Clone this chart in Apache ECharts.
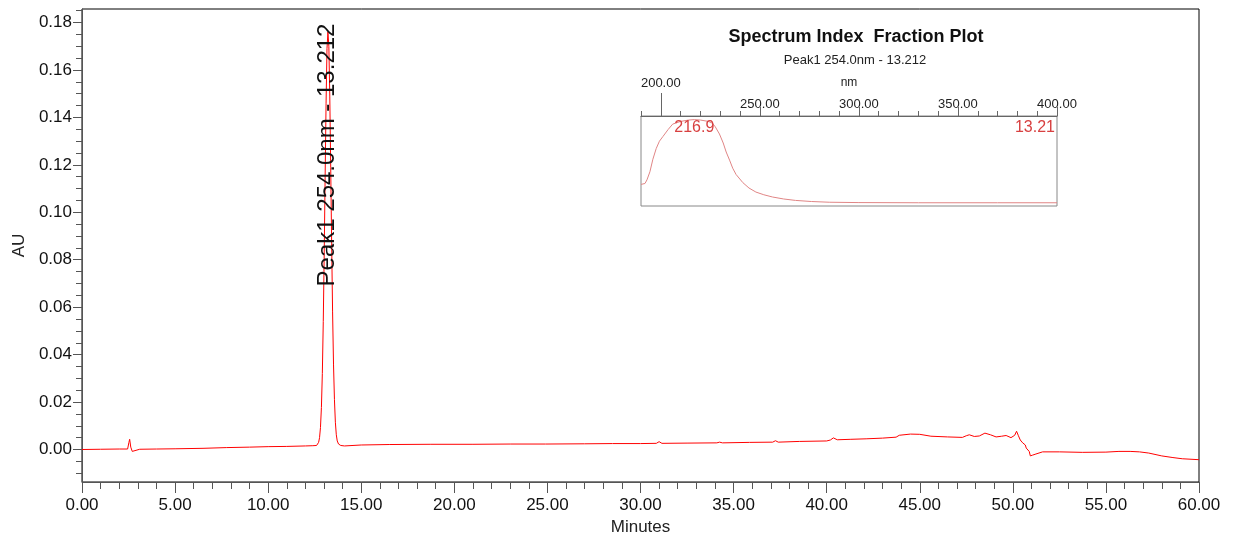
<!DOCTYPE html>
<html>
<head>
<meta charset="utf-8">
<script src="https://cdn.jsdelivr.net/npm/echarts@6/dist/echarts.min.js"></script>
<style>
  html, body { margin: 0; padding: 0; background: #fff; }
  #chart { width: 1234px; height: 533px; }
</style>
</head>
<body>
<div id="chart"></div>
<script>
// chromatogram, 254 nm
const retentionTime = [
  0, 1.0, 2.0, 2.45, 2.52, 2.56, 2.62, 2.7, 2.8, 3.1, 4.0, 5.0, 6.5, 7.75, 9.0, 10.0, 11.0, 12.0, 12.4,
  12.5, 12.6, 12.66, 12.71, 12.76, 12.81, 12.86, 12.91, 12.96, 13.01, 13.06, 13.11, 13.16, 13.21,
  13.26, 13.31, 13.36, 13.41, 13.46, 13.51, 13.56, 13.61, 13.66, 13.71, 13.78, 13.9, 14.1,
  15, 16.5, 18.7, 21, 23, 24.9, 27, 28.5, 30.0, 30.85, 31.0, 31.15, 32.5, 34.1, 34.25, 34.4,
  35.85, 37.1, 37.25, 37.4, 38.53, 40.0, 40.2, 40.36, 40.57, 41.3, 42.12, 43.0, 43.73, 43.9, 44.0,
  44.5, 45.0, 45.6, 46.5, 47.29, 47.5, 47.66, 47.93, 48.2, 48.5, 48.8, 49.1, 49.4, 49.64, 49.9,
  49.98, 50.1, 50.2, 50.3, 50.4, 50.53, 50.67, 50.72, 50.8, 50.88, 50.94, 51.05, 51.24, 51.6,
  52.5, 53.73, 55.0, 55.7, 56.3, 56.8, 57.3, 58.0, 58.6, 59.1, 60.0
]
const absorbance = [
  0.0000, 0.0001, 0.0002, 0.0002, 0.0030, 0.0043, 0.0010, -0.0008, -0.0004, 0.0001, 0.0002, 0.0003, 0.0005, 0.0008, 0.0010, 0.0012, 0.0013, 0.0015, 0.0016,
  0.0015, 0.0017, 0.0022, 0.0030, 0.0050, 0.0093, 0.0177, 0.032, 0.054, 0.082, 0.115, 0.146, 0.169, 0.176,
  0.170, 0.149, 0.119, 0.087, 0.058, 0.036, 0.021, 0.0115, 0.0062, 0.0036, 0.0023, 0.0017, 0.0015,
  0.0019, 0.0021, 0.0022, 0.0022, 0.0023, 0.0023, 0.0024, 0.0025, 0.0025, 0.0026, 0.0033, 0.0026, 0.0027, 0.0028, 0.0031, 0.0028,
  0.0030, 0.0031, 0.0037, 0.0031, 0.0034, 0.0036, 0.0040, 0.0049, 0.0041, 0.0043, 0.0045, 0.0048, 0.0052, 0.0060, 0.0065,
  0.0065, 0.0064, 0.0056, 0.0053, 0.0051, 0.0058, 0.0062, 0.0055, 0.0057, 0.0069, 0.0062, 0.0053, 0.0056, 0.0059, 0.0050,
  0.0045, 0.0060, 0.0077, 0.0058, 0.0040, 0.0028, 0.0019, 0.0006, 0.0010, -0.0008, -0.0027, -0.0024, -0.0019, -0.0010,
  -0.0010, -0.0012, -0.0011, -0.0008, -0.0008, -0.0010, -0.0015, -0.0027, -0.0034, -0.0039, -0.0043
]
const yTicks = [0, 0.02, 0.04, 0.06, 0.08, 0.10, 0.12, 0.14, 0.16, 0.18]
const yMinorTicks = [-0.01, -0.005, 0.005, 0.01, 0.015, 0.025, 0.03, 0.035, 0.045, 0.05, 0.055,
  0.065, 0.07, 0.075, 0.085, 0.09, 0.095, 0.105, 0.11, 0.115, 0.125, 0.13, 0.135,
  0.145, 0.15, 0.155, 0.165, 0.17, 0.175, 0.185]
const peakLabel = 'Peak1 254.0nm - 13.212'

// inset spectrum
const wavelength = [190, 192, 193, 194.5, 196, 197.7, 199.3, 201, 203.7, 206, 210, 214, 216.9, 220, 224, 226,
  227.5, 229.6, 231.5, 233, 234.7, 236.3, 238, 241.4, 244.5, 248, 252, 256.4, 262, 268, 276, 285, 300, 330, 370, 400]
const specValue = [0.24, 0.25, 0.29, 0.38, 0.52, 0.64, 0.72, 0.77, 0.85, 0.91, 0.94, 0.955, 0.96, 0.955, 0.94, 0.92,
  0.88, 0.80, 0.70, 0.60, 0.51, 0.42, 0.35, 0.26, 0.20, 0.155, 0.125, 0.10, 0.078, 0.062, 0.05, 0.042, 0.038, 0.036, 0.036, 0.036]
const nmMajor = [250, 300, 350, 400]
const lambdaMax = 216.9
const specPeakVal = 0.96

const FONT = 'Liberation Sans, Arial, sans-serif'
const chart = echarts.init(document.getElementById('chart'))

const chromData = retentionTime.map((t, i) => [t, absorbance[i]])
const specData = wavelength.map((w, i) => [w, specValue[i]])
const fmt2 = v => Number(v).toFixed(2)

chart.setOption({
  animation: false,
  textStyle: { fontFamily: FONT },
  title: [
    { text: 'Spectrum Index  Fraction Plot', left: 851, top: 23, textAlign: 'center',
      textStyle: { fontSize: 18, fontWeight: 'bold', color: '#111', fontFamily: FONT } },
    { text: peakLabel, left: 850, top: 49, textAlign: 'center',
      textStyle: { fontSize: 13, fontWeight: 'normal', color: '#222', fontFamily: FONT } }
  ],
  grid: [
    { left: 82, right: 35, top: 9, bottom: 51, show: true, borderColor: '#000', borderWidth: 1,
      outerBoundsMode: 'none', containLabel: false },
    { left: 641, top: 116, width: 416, height: 90, show: true, borderColor: '#888', borderWidth: 1,
      outerBoundsMode: 'none', containLabel: false }
  ],
  xAxis: [
    {
      gridIndex: 0, type: 'value', min: 0, max: 60, interval: 5,
      name: 'Minutes', nameLocation: 'middle', nameGap: 34,
      nameTextStyle: { fontSize: 17, color: '#222' },
      axisLine: { onZero: false, lineStyle: { color: '#555' } },
      axisTick: { length: 11, lineStyle: { color: '#555' } },
      minorTick: { show: true, splitNumber: 5, length: 7, lineStyle: { color: '#555' } },
      splitLine: { show: false },
      axisLabel: { fontSize: 17, color: '#111', margin: 15, formatter: fmt2 }
    },
    {
      gridIndex: 1, type: 'value', min: 190, max: 400, interval: 10, position: 'top',
      name: 'nm', nameLocation: 'middle', nameGap: 27,
      nameTextStyle: { fontSize: 12, color: '#222' },
      axisLine: { onZero: false, lineStyle: { color: '#666' } },
      axisTick: { length: 5, lineStyle: { color: '#666' } },
      axisLabel: { show: false },
      splitLine: { show: false }
    },
    {
      gridIndex: 1, type: 'value', min: 190, max: 400, position: 'top',
      axisLine: { show: false, onZero: false },
      axisTick: { customValues: nmMajor, length: 9, lineStyle: { color: '#666' } },
      axisLabel: { customValues: nmMajor, margin: 5, fontSize: 13, color: '#222', formatter: fmt2 },
      splitLine: { show: false }
    },
    {
      gridIndex: 1, type: 'value', min: 190, max: 400, position: 'top',
      axisLine: { show: false, onZero: false },
      axisTick: { customValues: [200], length: 23, lineStyle: { color: '#666' } },
      axisLabel: { customValues: [200], margin: 26, fontSize: 13, color: '#222', formatter: fmt2 },
      splitLine: { show: false }
    }
  ],
  yAxis: [
    {
      gridIndex: 0, type: 'value', min: -0.0137, max: 0.1857, position: 'left',
      name: 'AU', nameLocation: 'middle', nameGap: 48,
      nameTextStyle: { fontSize: 17, color: '#222' },
      axisLine: { show: true, onZero: false, lineStyle: { color: '#555' } },
      axisTick: { show: true, customValues: yTicks, length: 9, lineStyle: { color: '#555' } },
      axisLabel: { customValues: yTicks, fontSize: 17, color: '#111', margin: 10, formatter: fmt2 },
      splitLine: { show: false }
    },
    {
      gridIndex: 0, type: 'value', min: -0.0137, max: 0.1857, position: 'left',
      axisLine: { show: false, onZero: false },
      axisTick: { show: true, customValues: yMinorTicks, length: 6, lineStyle: { color: '#555' } },
      axisLabel: { show: false },
      splitLine: { show: false }
    },
    { gridIndex: 1, type: 'value', min: 0, max: 1, show: false, splitLine: { show: false } }
  ],
  graphic: [
    {
      type: 'text', x: 327, y: 155, rotation: Math.PI / 2, z: 100,
      style: { text: peakLabel, fill: '#111', font: '24px ' + FONT,
        textAlign: 'center', textVerticalAlign: 'middle' }
    },
    {
      type: 'text', x: 1055, y: 128, z: 100,
      style: { text: '13.21', fill: '#d84040', font: '16px ' + FONT,
        textAlign: 'right', textVerticalAlign: 'middle' }
    }
  ],
  series: [
    {
      type: 'line', xAxisIndex: 0, yAxisIndex: 0, data: chromData,
      showSymbol: false, lineStyle: { color: '#ff0000', width: 1 }
    },
    {
      type: 'line', xAxisIndex: 1, yAxisIndex: 2, data: specData,
      showSymbol: false, lineStyle: { color: '#e08585', width: 1 },
      markPoint: {
        symbol: 'circle', symbolSize: 0,
        data: [{ coord: [lambdaMax, specPeakVal] }],
        label: { show: true, position: 'inside', offset: [0, 8], formatter: String(lambdaMax),
          fontSize: 16, color: '#d84040', fontFamily: FONT }
      }
    }
  ]
})
</script>
</body>
</html>
